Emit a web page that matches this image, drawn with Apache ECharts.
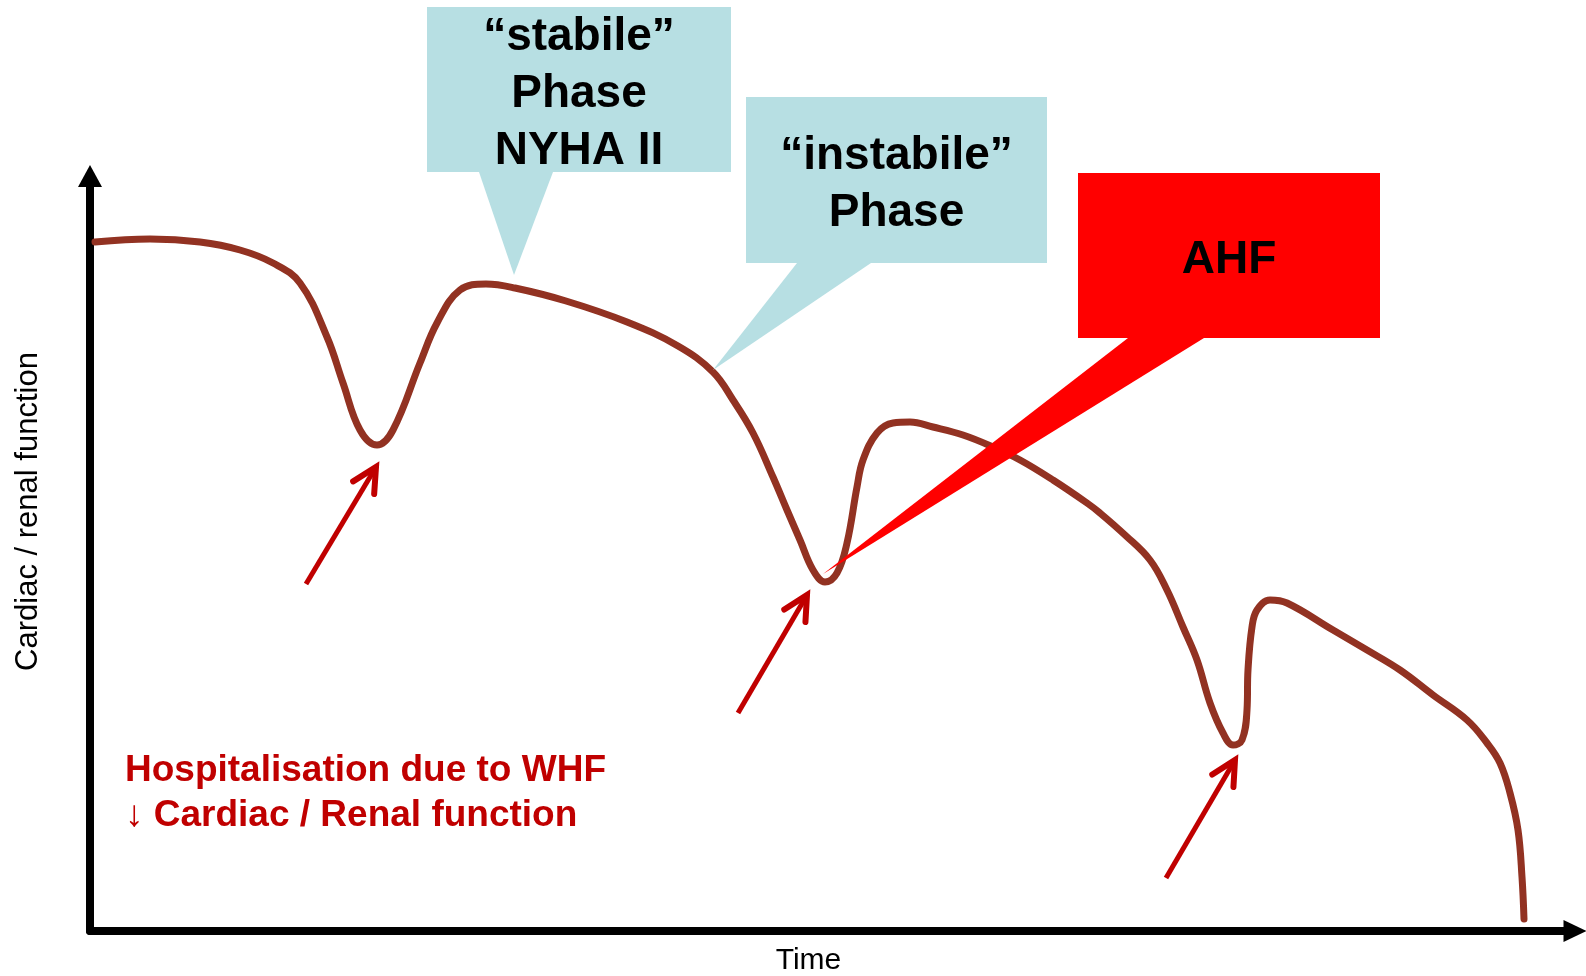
<!DOCTYPE html>
<html>
<head>
<meta charset="utf-8">
<script src="https://cdn.jsdelivr.net/npm/echarts@6/dist/echarts.min.js"></script>
<style>
html,body{margin:0;padding:0;background:#fff;}
#chart{width:1586px;height:976px;}
</style>
</head>
<body>
<div id="chart"></div>
<script>
// Conceptual course of cardiac / renal function over time (abstract units)
const timeValues = [5,60,110,150,183,210,237,253,270,287,303,330,347,370,396,425,476,537,588,623,643,663,683,697,710,723,735,747,757,767,773,787,803,820,843,873,903,930,963,997,1010,1035,1060,1077,1093,1107,1120,1133,1143,1152,1157,1158,1162,1167,1180,1197,1243,1277,1310,1343,1377,1397,1410,1420,1428,1432,1434];
const functionValues = [689,692,689,681,668,648,594,548,501,486,501,568,608,641,647,643,630,609,585,559,531,498,454,421,391,361,349,358,388,444,471,498,508,509,504,496,484,471,451,428,418,396,371,341,304,271,228,198,186,191,221,261,304,321,331,328,301,281,261,236,211,188,168,138,101,54,12];

// Callouts (anchored in data units): box [x0, yTop, x1, yBottom], pointer [baseX0, baseX1, tipX, tipY]
const calloutLabels = ['“stabile”\nPhase\nNYHA II', '“instabile”\nPhase', 'AHF'];
const calloutBoxes = [[337,924,641,759],[656,834,957,668],[988,758,1290,593]];
const calloutPointers = [[389,463,424,656],[707,781,623,561],[1038,1114,733,357]];
const calloutKinds = ['phase','phase','event'];

// Hospitalisation arrows: tail and head in data units
const arrowTails = [[216,347],[648,218],[1076,53]];
const arrowHeads = [[286,464],[717,336],[1145,171]];

const noteText = ['Hospitalisation due to WHF', '↓ Cardiac / Renal function'];
const noteAnchor = [35, 138];

const axisNames = {x: 'Time', y: 'Cardiac / renal function'};

const FONT = '"Liberation Sans", Arial, sans-serif';
const colors = {curve:'#923222', phase:'#B7DFE3', event:'#FF0000', arrow:'#C00000', axis:'#000'};

const chart = echarts.init(document.getElementById('chart'));
chart.setOption({
  animation: false,
  backgroundColor: '#fff',
  grid: {left: 90, right: 11, top: 176, bottom: 45, containLabel: false, outerBoundsMode: 'none'},
  xAxis: {
    type: 'value', min: 0, max: 1485,
    name: axisNames.x, nameLocation: 'middle', nameGap: 15,
    nameTextStyle: {fontFamily: FONT, fontSize: 30, color: '#000', padding: [0, 48, 0, 0]},
    axisLine: {show: true, symbol: ['none','triangle'], symbolSize: [22, 23], lineStyle: {color: colors.axis, width: 8}},
    axisTick: {show: false}, axisLabel: {show: false}, splitLine: {show: false}
  },
  yAxis: {
    type: 'value', min: 0, max: 755,
    name: axisNames.y, nameLocation: 'middle', nameGap: 46, nameRotate: 90,
    nameTextStyle: {fontFamily: FONT, fontSize: 31, color: '#000', padding: [0, 0, 0, 84]},
    axisLine: {show: true, symbol: ['none','triangle'], symbolSize: [24, 22], lineStyle: {color: colors.axis, width: 8}},
    axisTick: {show: false}, axisLabel: {show: false}, splitLine: {show: false}
  },
  series: [
    {
      type: 'line', z: 2,
      data: timeValues.map((t, i) => [t, functionValues[i]]),
      showSymbol: false, smooth: 0.4,
      lineStyle: {color: colors.curve, width: 7, cap: 'round', join: 'round'}
    },
    {
      type: 'custom', z: 3, clip: false,
      data: arrowTails.map((_, i) => [i]),
      renderItem: function (params, api) {
        const i = api.value(0);
        const a = api.coord(arrowTails[i]);
        const b = api.coord(arrowHeads[i]);
        const dx = a[0]-b[0], dy = a[1]-b[1];
        const len = Math.sqrt(dx*dx+dy*dy);
        const ux = dx/len, uy = dy/len;
        const ang = 27*Math.PI/180, L = 27;
        const rot = (s) => [b[0] + L*(ux*Math.cos(s*ang) - uy*Math.sin(s*ang)), b[1] + L*(ux*Math.sin(s*ang) + uy*Math.cos(s*ang))];
        return {type: 'group', children: [
          {type: 'polyline', shape: {points: [a, b]}, style: {stroke: colors.arrow, lineWidth: 5, fill: null}},
          {type: 'polyline', shape: {points: [rot(1), b, rot(-1)]}, style: {stroke: colors.arrow, lineWidth: 6, fill: null, lineCap: 'round', lineJoin: 'miter'}}
        ]};
      }
    },
    {
      type: 'custom', z: 4, clip: false,
      data: calloutLabels.map((_, i) => [i]),
      renderItem: function (params, api) {
        const i = api.value(0);
        const bx = calloutBoxes[i], p = calloutPointers[i];
        const fill = colors[calloutKinds[i]];
        const tl = api.coord([bx[0], bx[1]]), br = api.coord([bx[2], bx[3]]);
        const b0 = api.coord([p[0], bx[3]]), b1 = api.coord([p[1], bx[3]]), tip = api.coord([p[2], p[3]]);
        return {type: 'group', children: [
          {type: 'polygon', shape: {points: [b0, b1, tip]}, style: {fill: fill}},
          {type: 'rect', shape: {x: tl[0], y: tl[1], width: br[0]-tl[0], height: br[1]-tl[1]}, style: {fill: fill}},
          {type: 'text', x: (tl[0]+br[0])/2, y: (tl[1]+br[1])/2 + 5,
           style: {text: calloutLabels[i], fill: '#000', fontFamily: FONT, fontWeight: 'bold', fontSize: 46, lineHeight: 57, align: 'center', verticalAlign: 'middle'}}
        ]};
      }
    },
    {
      type: 'custom', z: 4, clip: false,
      data: [[0]],
      renderItem: function (params, api) {
        const c = api.coord(noteAnchor);
        return {type: 'text', x: c[0], y: c[1],
          style: {text: noteText.join('\n'), fill: colors.arrow, fontFamily: FONT, fontWeight: 'bold', fontSize: 37, lineHeight: 45, align: 'left', verticalAlign: 'middle'}};
      }
    }
  ]
});
</script>
</body>
</html>
